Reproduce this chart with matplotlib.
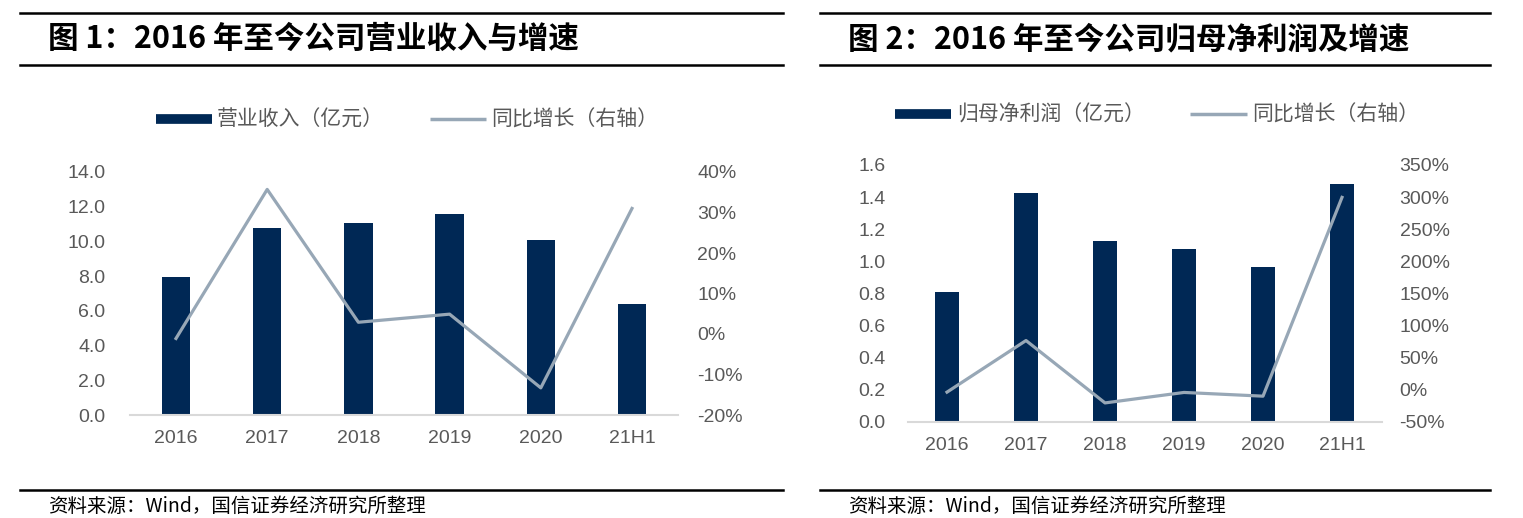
import matplotlib
matplotlib.use("Agg")
import matplotlib.pyplot as plt
from matplotlib.lines import Line2D
from matplotlib.ticker import FuncFormatter

plt.rcParams['font.family'] = ['Liberation Sans', 'Noto Sans CJK SC', 'DejaVu Sans']

categories = ["2016", "2017", "2018", "2019", "2020", "21H1"]

# Chart 1: revenue (亿元) and YoY growth (%)
revenue = [7.95, 10.75, 11.06, 11.58, 10.08, 6.38]
revenue_growth = [-1.1, 35.7, 2.9, 4.9, -13.3, 31.0]

# Chart 2: net profit attributable (亿元) and YoY growth (%)
profit = [0.807, 1.427, 1.126, 1.079, 0.968, 1.479]
profit_growth = [-3.5, 76.8, -20.3, -4.0, -9.8, 299.6]

title1 = "图 1：2016 年至今公司营业收入与增速"
title2 = "图 2：2016 年至今公司归母净利润及增速"
bar_label1 = "营业收入（亿元）"
bar_label2 = "归母净利润（亿元）"
line_label = "同比增长（右轴）"
source = "资料来源：Wind，国信证券经济研究所整理"

BAR = '#002855'
LINE = '#97A7B6'
TXT = '#595959'
CJK = ['Noto Sans CJK SC', 'DejaVu Sans']

W, H = 1523, 518
fig = plt.figure(figsize=(W / 100, H / 100), dpi=100)


def fx(px):
    return px / W


def fy(py):
    return 1 - py / H


def panel(x0, x1, ax_left, ax_right, ax_bot, ax_top, bars, growth, ylim, yticks, yfmt,
          y2lim, y2ticks, title, bar_label, legend_x, legend_y, lpad, rpad):
    # decorative rules
    for yy in (13, 65, 490):
        fig.add_artist(Line2D([fx(x0), fx(x1)], [fy(yy), fy(yy)], color='black', lw=1.8))
    fig.text(fx(x0 + 28), fy(39), title, fontsize=22, fontweight='bold', family=CJK,
             va='center', ha='left', color='black')
    fig.text(fx(x0 + 28), fy(506), source, fontsize=14, family=CJK, va='center', ha='left',
             color='black')

    ax = fig.add_axes([fx(ax_left), fy(ax_bot), fx(ax_right - ax_left), fy(ax_top) - fy(ax_bot)])
    x = list(range(len(categories)))
    ax.bar(x, bars, width=0.31, color=BAR, zorder=2)
    ax.set_xlim(-0.5, len(categories) - 0.5)
    ax.set_ylim(*ylim)
    ax.set_yticks(yticks)
    ax.yaxis.set_major_formatter(FuncFormatter(lambda v, p: yfmt.format(v)))
    ax.set_xticks(x)
    ax.set_xticklabels(categories)
    for s in ('top', 'right', 'left'):
        ax.spines[s].set_visible(False)
    ax.spines['bottom'].set_color('#D9D9D9')
    ax.spines['bottom'].set_linewidth(1.5)
    ax.tick_params(axis='both', length=0, labelsize=14, colors=TXT)
    ax.tick_params(axis='y', pad=lpad)
    ax.tick_params(axis='x', pad=11)

    ax2 = ax.twinx()
    ax2.plot(x, growth, color=LINE, lw=2.3, zorder=3)
    ax2.set_ylim(*y2lim)
    ax2.set_yticks(y2ticks)
    ax2.yaxis.set_major_formatter(FuncFormatter(lambda v, p: f"{v:.0f}%"))
    for s in ('top', 'right', 'left', 'bottom'):
        ax2.spines[s].set_visible(False)
    ax2.tick_params(axis='y', length=0, labelsize=14, colors=TXT, pad=rpad)

    handles = [Line2D([0], [0], color=BAR, lw=7, solid_capstyle='butt'),
               Line2D([0], [0], color=LINE, lw=2.5, solid_capstyle='butt')]
    fig.legend(handles, [bar_label, line_label], loc='center', ncol=2,
               bbox_to_anchor=(fx(legend_x), fy(legend_y)), frameon=False,
               prop={'family': CJK, 'size': 15, 'weight': 'light'}, labelcolor=TXT,
               handlelength=2.7, handletextpad=0.25, columnspacing=2.2)


panel(20, 783, 130.4, 677.6, 415, 172, revenue, revenue_growth, (0, 14),
      [0, 2, 4, 6, 8, 10, 12, 14], "{:.1f}", (-20, 40), [-20, -10, 0, 10, 20, 30, 40],
      title1, bar_label1, 407, 120, 18, 14)

panel(820, 1490, 907.5, 1381.5, 422, 165, profit, profit_growth, (0, 1.6),
      [0, 0.2, 0.4, 0.6, 0.8, 1.0, 1.2, 1.4, 1.6], "{:.1f}", (-50, 350),
      [-50, 0, 50, 100, 150, 200, 250, 300, 350],
      title2, bar_label2, 1157, 115, 16, 13)

fig.savefig("out.png", dpi=100)
